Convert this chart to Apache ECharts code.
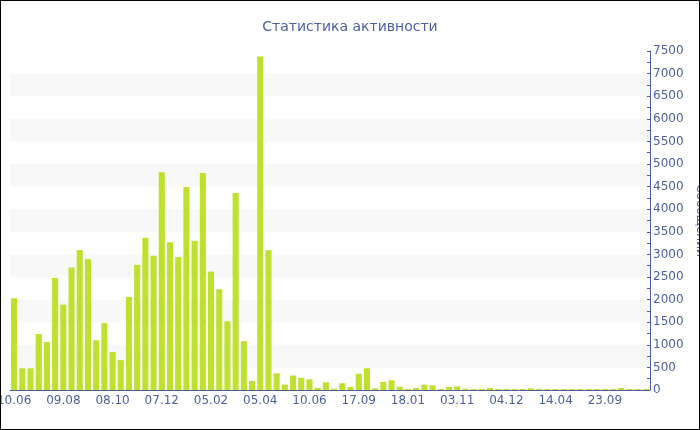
<!DOCTYPE html>
<html>
<head>
<meta charset="utf-8">
<script src="https://cdn.jsdelivr.net/npm/echarts@6/dist/echarts.min.js"></script>
<style>
  html, body { margin: 0; padding: 0; background: #fff; }
  #chart { width: 700px; height: 430px; box-sizing: border-box; border: 1px solid #000; }
</style>
</head>
<body>
<div id="chart"></div>
<script>
// подписи периодов (подписана каждая шестая)
var categories = [
  '10.06', '20.06', '30.06', '10.07', '20.07', '30.07',
  '09.08', '19.08', '29.08', '08.09', '18.09', '28.09',
  '08.10', '18.10', '28.10', '07.11', '17.11', '27.11',
  '07.12', '17.12', '27.12', '06.01', '16.01', '26.01',
  '05.02', '15.02', '25.02', '06.03', '16.03', '26.03',
  '05.04', '16.04', '27.04', '08.05', '19.05', '30.05',
  '10.06', '26.06', '13.07', '29.07', '15.08', '31.08',
  '17.09', '07.10', '28.10', '17.11', '08.12', '28.12',
  '18.01', '07.03', '24.04', '11.06', '29.07', '15.09',
  '03.11', '08.11', '13.11', '18.11', '23.11', '28.11',
  '04.12', '26.12', '17.01', '08.02', '01.03', '23.03',
  '14.04', '11.05', '07.06', '04.07', '31.07', '27.08',
  '23.09', '20.10', '16.11', '13.12', '09.01', '05.02'
];

// количество сообщений
var messages = [
  2030, 480, 480, 1240, 1060, 2480, 1890, 2710, 3100, 2900, 1100, 1480, 840, 660,
  2060, 2770, 3370, 2970, 4820, 3270, 2940, 4490, 3300, 4800, 2620, 2230, 1520,
  4360, 1080, 200, 7380, 3090, 370, 120, 320, 270, 236, 44, 170, 29, 148, 66,
  360, 480, 37, 177, 214, 73, 22, 44, 118, 103, 22, 66, 81, 30, 22, 22, 44,
  22, 22, 22, 22, 37, 25, 22, 22, 22, 22, 22, 22, 22, 22, 22, 45, 22, 22, 22
];

var axisColor = '#4e5fa0';
var font = 'DejaVu Sans, Verdana, sans-serif';

var chart = echarts.init(document.getElementById('chart'));
chart.setOption({
  animation: false,
  textStyle: { fontFamily: font },
  title: {
    text: 'Статистика активности',
    left: 'center',
    top: 14,
    textStyle: { color: axisColor, fontSize: 14, fontWeight: 'normal', fontFamily: font }
  },
  grid: { left: 9, right: 49, top: 50, bottom: 39, outerBoundsMode: 'none', containLabel: false },
  xAxis: {
    type: 'category',
    data: categories,
    axisLine: { lineStyle: { color: axisColor, width: 1 } },
    axisTick: { interval: 5, alignWithLabel: true, length: 3, lineStyle: { color: '#999' } },
    axisLabel: { interval: 5, color: axisColor, fontSize: 12, margin: 5, hideOverlap: false },
    splitLine: { show: false }
  },
  yAxis: {
    type: 'value',
    position: 'right',
    min: 0,
    max: 7500,
    interval: 500,
    name: 'Сообщений',
    nameLocation: 'middle',
    nameRotate: -90,
    nameGap: 30,
    nameTextStyle: { color: axisColor, fontSize: 12 },
    axisLine: { show: true, lineStyle: { color: axisColor } },
    axisTick: { show: true, inside: true, length: 3, lineStyle: { color: axisColor } },
    minorTick: { show: true, splitNumber: 2, length: 3, lineStyle: { color: axisColor } },
    axisLabel: { color: axisColor, fontSize: 12, margin: 3, formatter: function (v) { return String(v); } },
    splitLine: { show: false },
    splitArea: { show: true, areaStyle: { color: ['#ffffff', '#f8f8f8'] } }
  },
  series: [{
    name: 'Сообщений',
    type: 'bar',
    data: messages,
    barCategoryGap: '26%',
    itemStyle: { color: '#bde12d' }
  }]
});
</script>
</body>
</html>
